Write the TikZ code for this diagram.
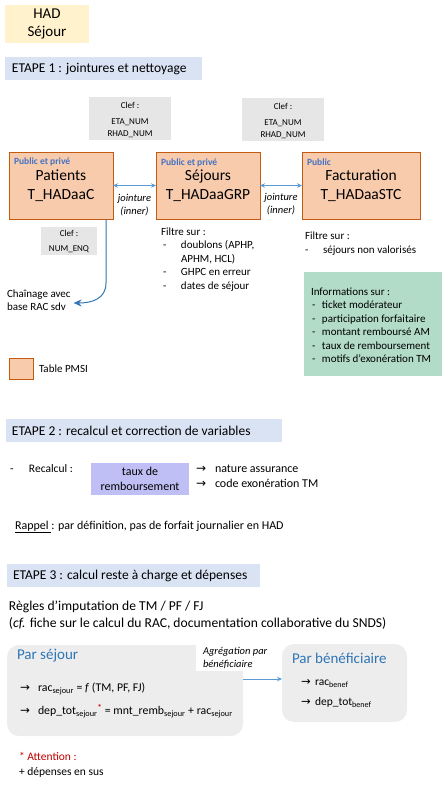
\documentclass[tikz,border=0pt]{standalone}
\usepackage{fontspec}
\setmainfont{Carlito}
\newfontfamily\symfont{DejaVu Sans}
\usetikzlibrary{arrows.meta}
\definecolor{hadjaune}{HTML}{FFF2CC}
\definecolor{etapebleu}{HTML}{DAE3F3}
\definecolor{clefgris}{HTML}{E6E6E6}
\definecolor{pmsifond}{HTML}{F8CBAD}
\definecolor{pmsibord}{HTML}{C55A11}
\definecolor{publicbleu}{HTML}{4472C4}
\definecolor{lienbleu}{HTML}{5B9BD5}
\definecolor{chainebleu}{HTML}{2E75B6}
\definecolor{infovert}{HTML}{B2DBC8}
\definecolor{tauxmauve}{HTML}{BFBFF5}
\definecolor{pargris}{HTML}{EDEDED}
\definecolor{titrebleu}{HTML}{2E75B6}
\definecolor{attrouge}{HTML}{C00000}
\newcommand{\fsz}[2]{\fontsize{#1}{#2}\selectfont}
\newcommand{\tiret}[1]{\makebox[#1][l]{-}}
\newcommand{\fleche}[1]{\makebox[#1][l]{\symfont →}}
\begin{document}
\begin{tikzpicture}[x=1pt,y=-1pt,
    every node/.style={inner sep=0pt, outer sep=0pt},
    txt/.style={anchor=west, align=left, font=\fsz{11}{13.5}},
    pmsi/.style={draw=pmsibord, fill=pmsifond, line width=1pt, anchor=north west},
    clef/.style={fill=clefgris, anchor=north west},
    cleftxt/.style={align=center, font=\fsz{9}{12}},
    etape/.style={fill=etapebleu, anchor=north west},
    etapetxt/.style={anchor=west, font=\fsz{13.5}{16}},
    public/.style={anchor=west, text=publicbleu, font=\fsz{9.5}{11}\bfseries},
    titre/.style={align=center, font=\fsz{15.5}{19}},
    lien/.style={draw=lienbleu, line width=0.9pt, {Stealth[length=5pt,width=4.5pt]}-{Stealth[length=5pt,width=4.5pt]}},
    jointure/.style={align=center, font=\fsz{10.5}{13}\itshape},
    parbox/.style={fill=pargris, rounded corners=12pt, anchor=north west},
    partitre/.style={anchor=west, text=titrebleu, font=\fsz{15}{18}}]
	\useasboundingbox (0,0) rectangle (447,789);
	\node[fill=hadjaune, anchor=north west, minimum width=84, minimum height=38, titre, font=\fsz{15}{18}] (had) at (5,5) {HAD\\Séjour};
	\node[etape, minimum width=197, minimum height=23] (e1) at (5,57) {};
	\node[etapetxt] (e1t) at (12,69) {ETAPE 1 : jointures et nettoyage};
	\node[clef, minimum width=82, minimum height=43] (clef1) at (89,97) {};
	\node[cleftxt] (clef1t) at (130,120) {Clef :\\[4pt]ETA\_NUM\\RHAD\_NUM};
	\node[clef, minimum width=82, minimum height=43] (clef2) at (242,98) {};
	\node[cleftxt] (clef2t) at (283,121) {Clef :\\[4pt]ETA\_NUM\\RHAD\_NUM};
	\node[pmsi, minimum width=104, minimum height=67] (pat) at (9,152) {};
	\node[public] (patp) at (14,162) {Public et privé};
	\node[titre] (patt) at (61,186) {Patients\\T\_HADaaC};
	\node[pmsi, minimum width=104, minimum height=67] (sej) at (156,152) {};
	\node[public] (sejp) at (161,163) {Public et privé};
	\node[titre] (sejt) at (208,186) {Séjours\\T\_HADaaGRP};
	\node[pmsi, minimum width=118, minimum height=67] (fact) at (302,152) {};
	\node[public] (factp) at (307,162) {Public};
	\node[titre] (factt) at (361,186) {Facturation\\T\_HADaaSTC};
	\draw[lien] (pat) -- (sej);
	\draw[lien] (sej) -- (fact);
	\node[jointure] (j1) at (134.5,205) {jointure\\(inner)};
	\node[jointure] (j2) at (281,204) {jointure\\(inner)};
	\node[clef, minimum width=56, minimum height=28] (clef3) at (41,227) {};
	\node[cleftxt] (clef3t) at (69,241.5) {Clef :\\[3pt]NUM\_ENQ};
	\node[txt] (chain) at (7,300) {Chaînage avec\\base RAC sdv};
	\draw[draw=chainebleu, line width=1pt, -{Stealth[length=8pt,width=7pt]}] ([xshift=45pt]pat.south) -- ++(0,64) .. controls +(0,16) and +(18,0) .. ([shift={(3,3)}]chain.east);
	\node[txt] (filtre1) at (161,259.5) {Filtre sur :\\\hspace*{2pt}\tiret{18pt}doublons (APHP,\\\hspace*{20pt}APHM, HCL)\\\hspace*{2pt}\tiret{18pt}GHPC en erreur\\\hspace*{2pt}\tiret{18pt}dates de séjour};
	\node[txt] (filtre2) at (305,243.5) {Filtre sur :\\\tiret{18pt}séjours non valorisés};
	\node[fill=infovert, anchor=north west, minimum width=138, minimum height=104] (info) at (304,272) {};
	\node[txt] (infot) at (311,325) {Informations sur :\\\hspace*{1pt}\tiret{10pt}ticket modérateur\\\hspace*{1pt}\tiret{10pt}participation forfaitaire\\\hspace*{1pt}\tiret{10pt}montant remboursé AM\\\hspace*{1pt}\tiret{10pt}taux de remboursement\\\hspace*{1pt}\tiret{10pt}motifs d’exonération TM};
	\node[pmsi, minimum width=24, minimum height=21] (leg) at (9,358) {};
	\node[txt] (legt) at (39,369) {Table PMSI};
	\node[etape, minimum width=276, minimum height=23] (e2) at (6,419) {};
	\node[etapetxt] (e2t) at (12,431) {ETAPE 2 : recalcul et correction de variables};
	\node[txt, font=\fsz{11.5}{14}] (recalc) at (10,469) {\tiret{19pt}Recalcul :};
	\node[fill=tauxmauve, anchor=north west, minimum width=98, minimum height=32] (taux) at (91,463) {};
	\node[align=center, font=\fsz{12}{15}] (tauxt) at (taux.center) {taux de\\remboursement};
	\node[txt, font=\fsz{12}{15}] (tauxres) at (196,476.5) {\fleche{19pt}nature assurance\\\fleche{19pt}code exonération TM};
	\node[txt, font=\fsz{12}{14}] (rappel) at (15,527) {\underline{Rappel }: par définition, pas de forfait journalier en HAD};
	\node[etape, minimum width=253, minimum height=23] (e3) at (7,564) {};
	\node[etapetxt] (e3t) at (13,576) {ETAPE 3 : calcul reste à charge et dépenses};
	\node[txt, font=\fsz{13.6}{17}] (regles) at (9,615.5) {Règles d’imputation de TM / PF / FJ\\(\textit{cf.} fiche sur le calcul du RAC, documentation collaborative du SNDS)};
	\node[parbox, minimum width=236, minimum height=91] (psej) at (7,645) {};
	\node[partitre] (psejt) at (17,656) {Par séjour};
	\node[txt, font=\fsz{11.8}{23}] (psejl) at (20,700.5) {\fleche{18pt}rac\textsubscript{sejour} = \textit{f} (TM, PF, FJ)\\\fleche{18pt}dep\_tot\textsubscript{sejour}\textsuperscript{\textbf{\textcolor{attrouge}{*}}} = mnt\_remb\textsubscript{sejour} + rac\textsubscript{sejour}};
	\node[fill=white, anchor=north west, inner xsep=7pt, inner ysep=3pt, align=left, font=\fsz{10.5}{13}\itshape] (agg) at (196,644) {Agrégation par\\bénéficiaire};
	\node[parbox, minimum width=125, minimum height=78] (pben) at (282,644) {};
	\node[partitre] (pbent) at (292,658) {Par bénéficiaire};
	\node[txt, font=\fsz{11.5}{20}] (pbenl) at (301,693.5) {\fleche{14pt}rac\textsubscript{benef}\\\fleche{14pt}dep\_tot\textsubscript{benef}};
	\path ([yshift=11.5pt]psej.east) coordinate (aggdep);
	\draw[draw=lienbleu, line width=0.9pt, -{Stealth[length=5pt,width=4.5pt]}] (aggdep) -- (aggdep -| pben.west);
	\node[txt, font=\fsz{11.5}{15}] (att) at (19,764.5) {\textcolor{attrouge}{* Attention :}\\+ dépenses en sus};
\end{tikzpicture}
\end{document}
